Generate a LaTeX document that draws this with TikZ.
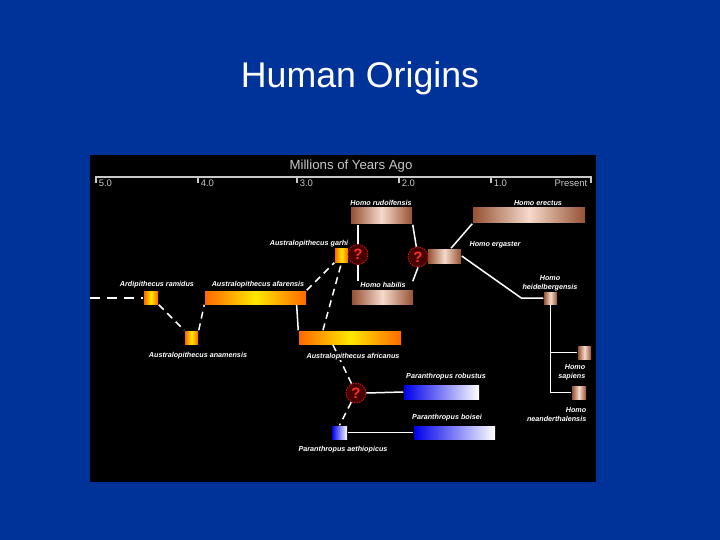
\documentclass[tikz,border=0pt]{standalone}
\usepackage{fontspec}
\setmainfont{Liberation Sans}
\usepackage{tikz}

\definecolor{slideblue}{RGB}{0,51,153}
\definecolor{axisgray}{RGB}{200,200,200}
\definecolor{ausorange}{RGB}{255,105,0}
\definecolor{ausyellow}{RGB}{255,232,0}
\definecolor{copperdark}{RGB}{150,82,52}
\definecolor{copperlight}{RGB}{246,218,204}
\definecolor{parablue}{RGB}{0,0,235}
\definecolor{qred}{RGB}{205,25,25}
\definecolor{qbright}{RGB}{255,45,45}
\definecolor{qdark}{RGB}{70,0,0}

\newcommand{\axisfont}{\fontsize{9.5}{11}\selectfont}
\newcommand{\spfont}{\fontsize{7.2}{9}\selectfont\bfseries\itshape}

\tikzset{
  spbar/.style={rectangle, inner sep=0pt, minimum height=14pt},
  aus/.style={spbar, left color=ausorange, right color=ausorange, middle color=ausyellow},
  homo/.style={spbar, left color=copperdark, right color=copperdark, middle color=copperlight},
  para/.style={spbar, left color=parablue, right color=white},
  spname/.style={text=white, font=\spfont, inner sep=0pt, align=center},
  qmark/.style={circle, draw=qred, line width=0.8pt, dash pattern=on 1.5pt off 1pt,
                fill=qdark, minimum size=20pt, inner sep=0pt, text=qbright,
                font=\fontsize{15}{15}\selectfont\bfseries},
  link/.style={white, line width=1.5pt},
  dlink/.style={link, dash pattern=on 7pt off 5pt}
}

\begin{document}
\begin{tikzpicture}[x=1pt, y=-1pt, line width=1.5pt]

% slide and black chart panel
\fill[slideblue] (0,0) rectangle (720,540);
\fill[black] (90,155) rectangle (596,482);

% title
\node[anchor=base, text=white, font=\fontsize{35.7}{40}\selectfont] (title) at (360,88) {Human Origins};

% time axis
\node[anchor=base, text=axisgray, font=\fontsize{13.2}{15}\selectfont] (axistitle) at (351,170) {Millions of Years Ago};
\draw[axisgray, line width=2pt] (96,183) -- (96,177) -- (591,177) -- (591,183);
\foreach \x/\yr [count=\i] in {96/5.0, 198/4.0, 297/3.0, 399/2.0, 491/1.0} {
  \draw[axisgray, line width=2pt] (\x,177) -- (\x,183);
  \node[anchor=base west, text=axisgray, font=\axisfont, inner sep=0pt] (year\i) at (\x+2,186.5) {\yr};
}
\node[anchor=base east, text=axisgray, font=\axisfont, inner sep=0pt] (present) at (588,186.5) {Present};

% species bars
\node[homo, minimum width=61pt, minimum height=16pt] (rudolf) at (381.5,216) {};
\node[homo, minimum width=112pt, minimum height=15pt] (erectus) at (529,215.5) {};
\node[homo, minimum width=33pt] (ergaster) at (444.5,256) {};
\node[aus, minimum width=13pt] (garhi) at (341.5,255) {};
\node[homo, minimum width=61pt] (habilis) at (382.5,297) {};
\node[aus, minimum width=101pt, minimum height=13pt] (afarensis) at (255.5,297.5) {};
\node[aus, minimum width=14pt, minimum height=13pt] (ramidus) at (151,297.5) {};
\node[aus, minimum width=13pt, minimum height=13pt] (anamensis) at (191.5,337.5) {};
\node[aus, minimum width=102pt, minimum height=13pt] (africanus) at (350,337.5) {};
\node[homo, minimum width=13pt, minimum height=12pt] (heidel) at (550.5,298) {};
\node[homo, minimum width=13pt, minimum height=13pt] (sapiens) at (584.5,352.5) {};
\node[homo, minimum width=14pt, minimum height=13pt] (neander) at (579,392.5) {};
\node[para, minimum width=75pt] (robustus) at (441.5,392) {};
\node[para, minimum width=81pt, minimum height=13pt] (boisei) at (454.5,432.5) {};
\node[para, minimum width=15pt, minimum height=13pt] (aethiop) at (339.5,432.5) {};

% unknown links
\node[qmark] (q1) at (358,254.5) {?};
\node[qmark] (q2) at (418,257) {?};
\node[qmark] (q3) at (356,393) {?};

% lines of descent
\coordinate (edge) at (90,297.5);
\draw[link, dash pattern=on 10pt off 7pt, line width=2pt] (edge) -- (ramidus.west);
\draw[dlink] (ramidus.south east) -- (anamensis.north west);
\draw[dlink] (anamensis.north east) -- (afarensis.south west);
\draw[dlink] (afarensis.north east) -- (garhi.south west);
\draw[link] (afarensis.-10) -- (africanus.north west);
\draw[dlink] (africanus.165) -- (garhi.south);
\draw[dlink] (africanus.-157) -- (q3);
\draw[link] (q1.north) -- (q1.north |- rudolf.south);
\draw[link] (q1.south) -- ++(0,16);
\draw[link] (rudolf.south east) -- (q2);
\draw[link] (q2.south) -- ([xshift=-1pt, yshift=8pt]habilis.north east);
\draw[link] (ergaster.50) -- (erectus.south west);
\draw[link] (ergaster.east) -- ([xshift=-22pt]heidel.west) -- (heidel.west);
\draw[link] (heidel.south) |- (sapiens.west);
\draw[link] (heidel.south) |- (neander.west);
\draw[link] (q3.east) -- (robustus.west);
\draw[dlink] (q3) -- (aethiop.north);
\draw[link] (aethiop.east) -- (boisei.west);

% species names
\node[spname, anchor=base] (rudolf-lbl) at (381,206) {Homo rudolfensis};
\node[spname, anchor=base] (erectus-lbl) at (538,205.5) {Homo erectus};
\node[spname, anchor=base] (ergaster-lbl) at (495,247) {Homo ergaster};
\node[spname, anchor=base east] (garhi-lbl) at (349,245) {Australopithecus garhi};
\node[spname, anchor=base] (habilis-lbl) at (383,287) {Homo habilis};
\node[spname, anchor=base] (afarensis-lbl) at (258,286) {Australopithecus afarensis};
\node[spname, anchor=base] (ramidus-lbl) at (157,286) {Ardipithecus ramidus};
\node[spname, anchor=base] (anamensis-lbl) at (198,357) {Australopithecus anamensis};
\node[spname, anchor=base, fill=black, inner sep=1pt] (africanus-lbl) at (353,358) {Australopithecus africanus};
\node[spname, anchor=north] (heidel-lbl) at (550,274.5) {Homo\\heidelbergensis};
\node[spname, anchor=north east, align=right] (sapiens-lbl) at (586,363.5) {Homo\\sapiens};
\node[spname, anchor=north east, align=right] (neander-lbl) at (587,406.5) {Homo\\neanderthalensis};
\node[spname, anchor=base] (robustus-lbl) at (446,378.5) {Paranthropus robustus};
\node[spname, anchor=base] (boisei-lbl) at (447,419.5) {Paranthropus boisei};
\node[spname, anchor=base] (aethiop-lbl) at (343,451.5) {Paranthropus aethiopicus};

\end{tikzpicture}
\end{document}
